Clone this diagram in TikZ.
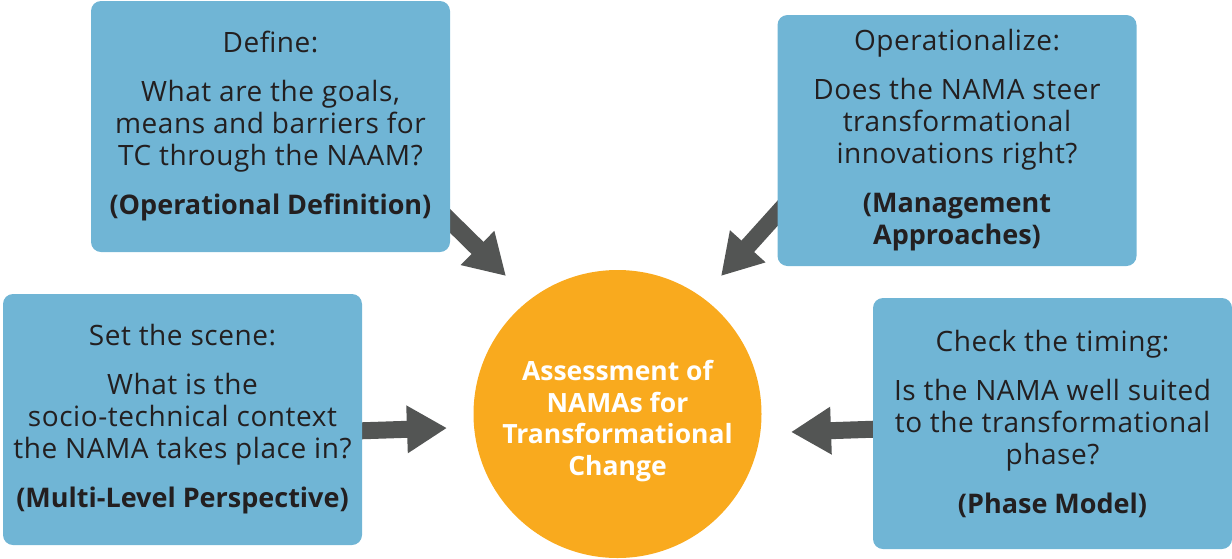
\documentclass[tikz,border=0pt]{standalone}
\usepackage{fontspec}
\setmainfont{Open Sans}
\newfontfamily\spacedsans[LetterSpace=2]{Open Sans}
\usetikzlibrary{arrows.meta}
\definecolor{boxblue}{HTML}{70B5D5}
\definecolor{circorange}{HTML}{F9AA1E}
\definecolor{arrowgray}{HTML}{535554}
\definecolor{textdark}{HTML}{231F20}
\newcommand\bx[1]{{\normalfont\bfseries\fontsize{27}{32}\selectfont #1}}
\tikzset{
  infobox/.style={fill=boxblue, rounded corners=10pt, minimum width=359pt, minimum height=251pt,
    inner sep=0pt, align=center, text=textdark, font=\spacedsans\fontsize{28}{32}\selectfont},
  hub/.style={circle, fill=circorange, minimum size=288pt, inner sep=0pt},
  hubtext/.style={align=center, text=white, font=\bfseries\fontsize{26.5}{31.5}\selectfont},
  bigarrow/.style={draw=arrowgray, line width=17pt,
    -{Triangle[length=40pt, width=45pt, fill=arrowgray]}}
}
\begin{document}
\begin{tikzpicture}[x=1pt, y=-1pt]
\useasboundingbox (0,0) rectangle (1232,558);
% arrow end points
\coordinate (a1s) at (442,213);
\coordinate (a1e) at (506,276);
\coordinate (a2s) at (785,205);
\coordinate (a2e) at (721,276);
\coordinate (a3s) at (355,431);
\coordinate (a3e) at (447,428);
\coordinate (a4s) at (880,429);
\coordinate (a4e) at (791,432);
\draw[bigarrow] (a1s) -- (a1e);
\draw[bigarrow] (a2s) -- (a2e);
\draw[bigarrow] (a3s) -- (a3e);
\draw[bigarrow] (a4s) -- (a4e);
% boxes
\node[infobox] (b1) at (270.5,126.5) {Define:\\[17pt]What are the goals,\\means and barriers for\\TC through the NAAM?\\[17pt]\bx{(Operational Definition)}};
\node[infobox] (b2) at (957,140.5) {Operationalize:\\[17pt]Does the NAMA steer\\transformational\\innovations right?\\[17pt]\bx{(Management}\\\bx{Approaches)}};
\node[infobox] (b3) at (182.5,419.5) {Set the scene:\\[17pt]What is the\\socio-technical context\\the NAMA takes place in?\\[17pt]\bx{(Multi-Level Perspective)}};
\node[infobox] (b4) at (1052.5,423.5) {Check the timing:\\[17pt]Is the NAMA well suited\\to the transformational\\phase?\\[17pt]\bx{(Phase Model)}};
% hub
\node[hub] (c) at (617.5,414) {};
\node[hubtext] (ct) at (617.5,421) {Assessment of\\NAMAs for\\Transformational\\Change};
\end{tikzpicture}
\end{document}
